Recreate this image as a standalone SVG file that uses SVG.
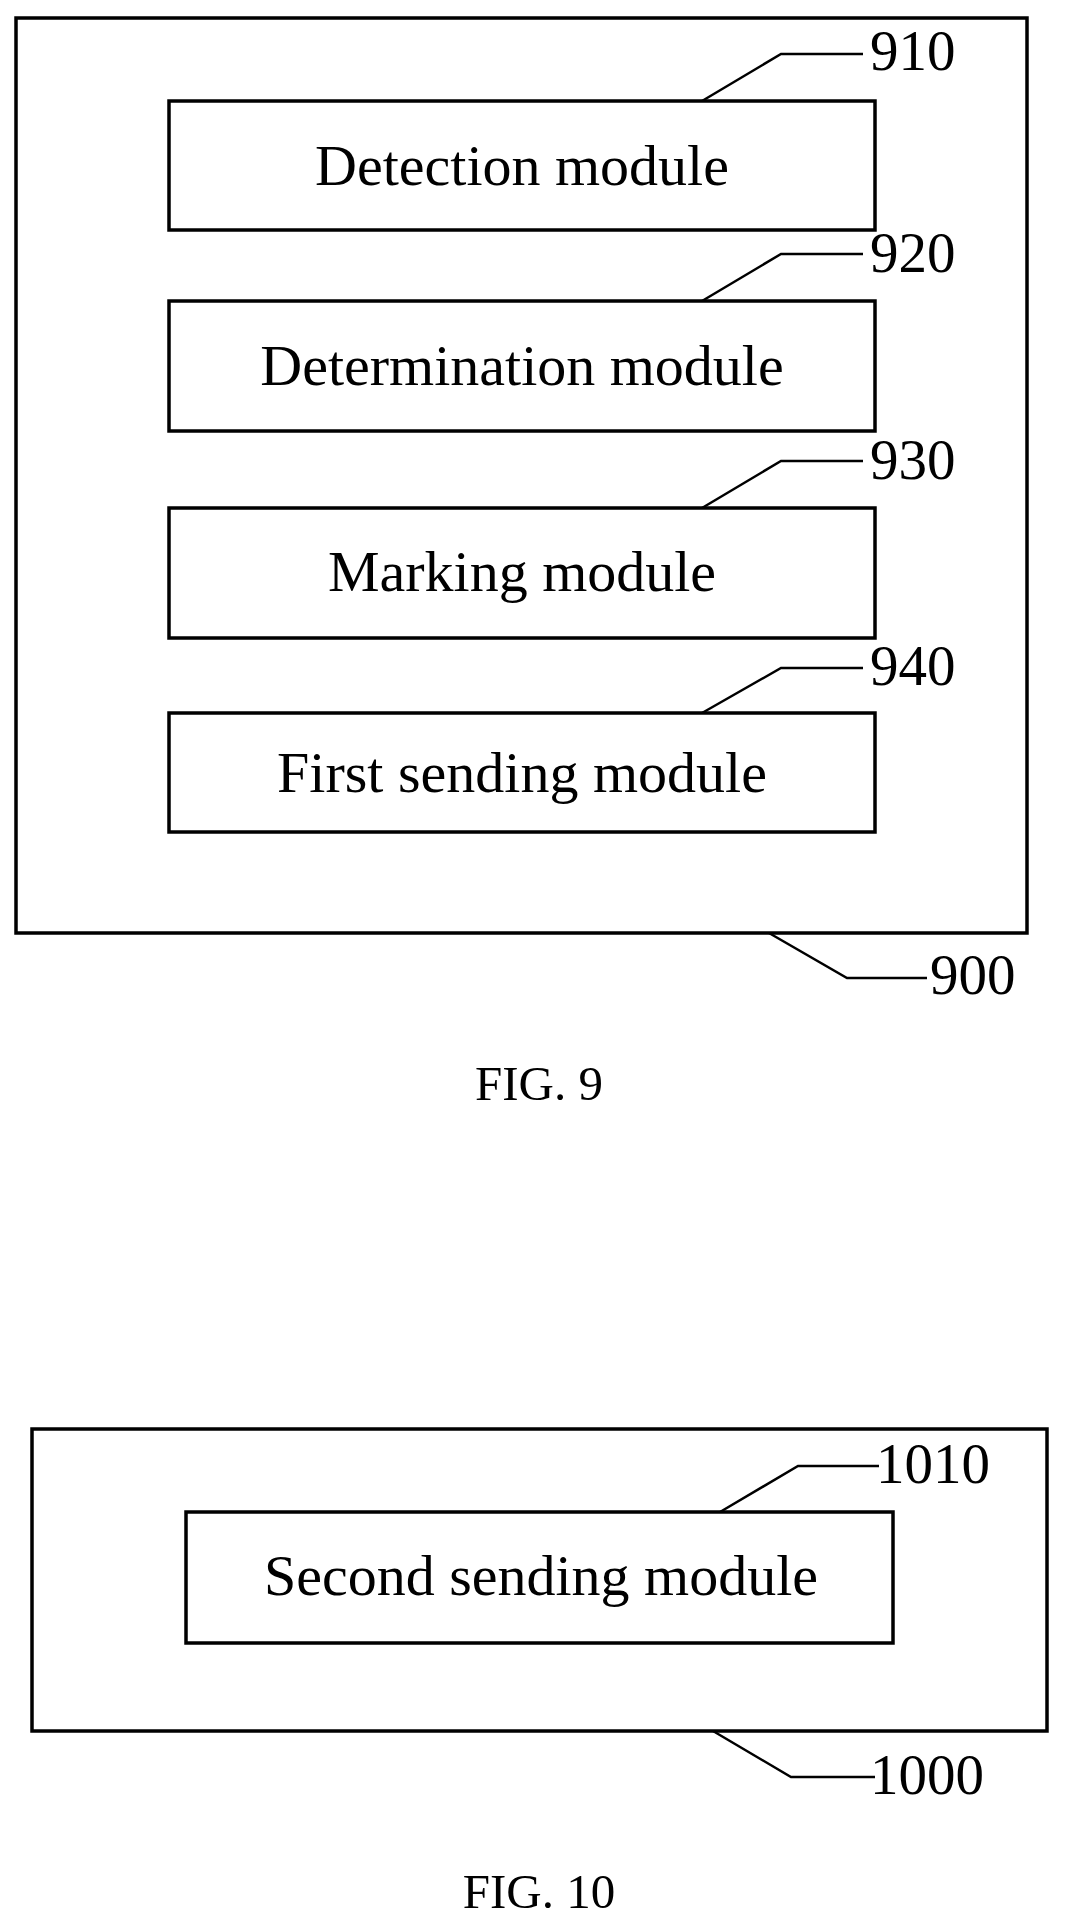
<svg xmlns="http://www.w3.org/2000/svg" width="1067" height="1924" viewBox="0 0 1067 1924">
<style>
.b{fill:none;stroke:#000;stroke-width:3.5}
.l{fill:none;stroke:#000;stroke-width:2.5}
text{font-family:"Liberation Serif","Times New Roman",serif;fill:#000}
.t{font-size:58px;text-anchor:middle}
.n{font-size:57px}
.f{font-size:49px;text-anchor:middle}
</style>
<rect width="1067" height="1924" fill="#fff"/>
<g id="n900"><rect class="b" x="16" y="18" width="1011" height="915"/><text class="n" x="930" y="994">900</text></g>
<g id="n910"><rect class="b" x="169" y="101" width="706" height="129"/><text class="t" x="522" y="185">Detection module</text><text class="n" x="870" y="70">910</text></g>
<g id="n920"><rect class="b" x="169" y="301" width="706" height="130"/><text class="t" x="522" y="385">Determination module</text><text class="n" x="870" y="272">920</text></g>
<g id="n930"><rect class="b" x="169" y="508" width="706" height="130"/><text class="t" x="522" y="591">Marking module</text><text class="n" x="870" y="479">930</text></g>
<g id="n940"><rect class="b" x="169" y="713" width="706" height="119"/><text class="t" x="522" y="792">First sending module</text><text class="n" x="870" y="685">940</text></g>
<text class="f" x="539" y="1100">FIG. 9</text>
<g id="n1000"><rect class="b" x="32" y="1429" width="1015" height="302"/><text class="n" x="870" y="1794">1000</text></g>
<g id="n1010"><rect class="b" x="186" y="1512" width="707" height="131"/><text class="t" x="541" y="1595">Second sending module</text><text class="n" x="876" y="1483">1010</text></g>
<text class="f" x="539" y="1908">FIG. 10</text>
<g id="connectors">
<polyline class="l" points="702,101 781,54 863,54"/>
<polyline class="l" points="702,301 781,254 863,254"/>
<polyline class="l" points="702,508 781,461 863,461"/>
<polyline class="l" points="702,713 781,668 863,668"/>
<polyline class="l" points="769,933 847,978 927,978"/>
<polyline class="l" points="720,1512 798,1466 879,1466"/>
<polyline class="l" points="713,1731 791,1777 875,1777"/>
</g>
</svg>
